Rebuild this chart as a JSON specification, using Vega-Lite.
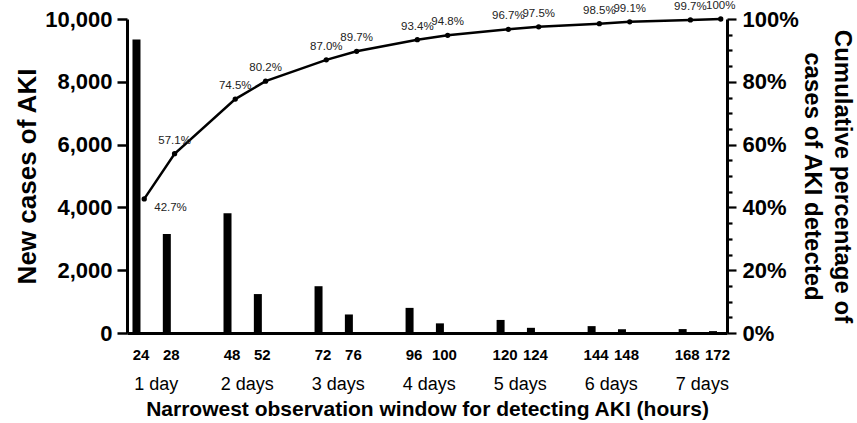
{
  "$schema": "https://vega.github.io/schema/vega-lite/v6.json",
  "width": 600,
  "height": 314,
  "autosize": "none",
  "padding": {"left": 127, "top": 19, "right": 130, "bottom": 90},
  "config": {
    "font": "Liberation Sans",
    "view": {"stroke": null},
    "axis": {"grid": false, "domainColor": "#000", "tickColor": "#000", "labelColor": "#000", "titleColor": "#000"}
  },
  "datasets": {
    "bars": [
      {"hour": "24", "cases": 9350},
      {"hour": "28", "cases": 3150},
      {"hour": "48", "cases": 3810},
      {"hour": "52", "cases": 1240},
      {"hour": "72", "cases": 1490},
      {"hour": "76", "cases": 590},
      {"hour": "96", "cases": 800},
      {"hour": "100", "cases": 307},
      {"hour": "120", "cases": 416},
      {"hour": "124", "cases": 165},
      {"hour": "144", "cases": 219},
      {"hour": "148", "cases": 120},
      {"hour": "168", "cases": 125},
      {"hour": "172", "cases": 60}
    ],
    "cum": [
      {"hour": "24", "pct": 42.7, "label": "42.7%"},
      {"hour": "28", "pct": 57.1, "label": "57.1%"},
      {"hour": "48", "pct": 74.5, "label": "74.5%"},
      {"hour": "52", "pct": 80.2, "label": "80.2%"},
      {"hour": "72", "pct": 87.0, "label": "87.0%"},
      {"hour": "76", "pct": 89.7, "label": "89.7%"},
      {"hour": "96", "pct": 93.4, "label": "93.4%"},
      {"hour": "100", "pct": 94.8, "label": "94.8%"},
      {"hour": "120", "pct": 96.7, "label": "96.7%"},
      {"hour": "124", "pct": 97.5, "label": "97.5%"},
      {"hour": "144", "pct": 98.5, "label": "98.5%"},
      {"hour": "148", "pct": 99.1, "label": "99.1%"},
      {"hour": "168", "pct": 99.7, "label": "99.7%"},
      {"hour": "172", "pct": 100, "label": "100%"}
    ],
    "days": [
      {"day": "1 day"}, {"day": "2 days"}, {"day": "3 days"}, {"day": "4 days"},
      {"day": "5 days"}, {"day": "6 days"}, {"day": "7 days"}
    ]
  },
  "layer": [
    {
      "data": {"name": "bars"},
      "mark": {"type": "bar", "size": 8, "xOffset": -4, "color": "#000"},
      "encoding": {
        "x": {
          "field": "hour", "type": "ordinal",
          "scale": {"type": "point", "domain": ["24","28","g1","48","52","g2","72","76","g3","96","100","g4","120","124","g5","144","148","g6","168","172"], "padding": 0.387, "align": 0.574},
          "axis": {"orient": "bottom", "title": null, "labelExpr": "indexof(datum.value,'g')===0?'':datum.value", "ticks": false, "tickSize": 0, "domainWidth": 3, "labelFontSize": 15, "labelFontWeight": "bold", "labelPadding": 14, "labelOverlap": false, "labelAngle": 0, "labelBaseline": "top"}
        },
        "y": {
          "field": "cases", "type": "quantitative",
          "scale": {"domain": [0, 10000], "nice": false},
          "axis": {"orient": "left", "values": [0, 2000, 4000, 6000, 8000, 10000], "format": ",d", "tickSize": 10, "tickWidth": 2.5, "domainWidth": 3, "labelFontSize": 22, "labelFontWeight": "bold", "labelPadding": 5, "title": "New cases of AKI", "titleFontSize": 26, "titleFontWeight": "bold", "titlePadding": 4}
        }
      }
    },
    {
      "data": {"name": "cum"},
      "mark": {"type": "line", "color": "#000", "strokeWidth": 2.5, "xOffset": 3.75},
      "encoding": {
        "x": {
          "field": "hour", "type": "ordinal",
          "scale": {"type": "point", "domain": ["24","28","g1","48","52","g2","72","76","g3","96","100","g4","120","124","g5","144","148","g6","168","172"], "padding": 0.387, "align": 0.574},
          "axis": null
        },
        "y": {
          "field": "pct", "type": "quantitative",
          "scale": {"domain": [0, 100], "nice": false},
          "axis": {"orient": "right", "values": [0,5,10,15,20,25,30,35,40,45,50,55,60,65,70,75,80,85,90,95,100], "labelExpr": "datum.value % 20 === 0 ? datum.value + '%' : ''", "tickSize": {"condition": {"test": "datum.value % 20 === 0", "value": 9}, "value": 5}, "tickWidth": 2.2, "domainWidth": 3, "labelFontSize": 22, "labelFontWeight": "bold", "labelPadding": 6, "title": ["Cumulative percentage of", "cases of AKI detected"], "titleFontSize": 24, "titleFontWeight": "bold", "titleAngle": 90, "titlePadding": 1, "titleLineHeight": 30}
        }
      }
    },
    {
      "data": {"name": "cum"},
      "mark": {"type": "point", "filled": true, "color": "#000", "opacity": 1, "size": 28, "xOffset": 3.75},
      "encoding": {
        "x": {
          "field": "hour", "type": "ordinal",
          "scale": {"type": "point", "domain": ["24","28","g1","48","52","g2","72","76","g3","96","100","g4","120","124","g5","144","148","g6","168","172"], "padding": 0.387, "align": 0.574},
          "axis": null
        },
        "y": {"field": "pct", "type": "quantitative", "scale": {"domain": [0, 100], "nice": false}, "axis": null}
      }
    },
    {
      "data": {"name": "cum"},
      "transform": [{"filter": "datum.hour !== '24'"}],
      "mark": {"type": "text", "color": "#222", "fontSize": 11.5, "align": "center", "baseline": "middle", "dy": -13, "xOffset": 3.75},
      "encoding": {
        "x": {
          "field": "hour", "type": "ordinal",
          "scale": {"type": "point", "domain": ["24","28","g1","48","52","g2","72","76","g3","96","100","g4","120","124","g5","144","148","g6","168","172"], "padding": 0.387, "align": 0.574},
          "axis": null
        },
        "y": {"field": "pct", "type": "quantitative", "scale": {"domain": [0, 100], "nice": false}, "axis": null},
        "text": {"field": "label"}
      }
    },
    {
      "data": {"name": "cum"},
      "transform": [{"filter": "datum.hour === '24'"}],
      "mark": {"type": "text", "color": "#222", "fontSize": 11.5, "align": "left", "baseline": "middle", "dx": 10, "dy": 9, "xOffset": 3.75},
      "encoding": {
        "x": {
          "field": "hour", "type": "ordinal",
          "scale": {"type": "point", "domain": ["24","28","g1","48","52","g2","72","76","g3","96","100","g4","120","124","g5","144","148","g6","168","172"], "padding": 0.387, "align": 0.574},
          "axis": null
        },
        "y": {"field": "pct", "type": "quantitative", "scale": {"domain": [0, 100], "nice": false}, "axis": null},
        "text": {"field": "label"}
      }
    },
    {
      "data": {"name": "days"},
      "mark": {"type": "point", "opacity": 0},
      "encoding": {
        "x": {
          "field": "day", "type": "ordinal",
          "scale": {"type": "point", "domain": ["1 day","2 days","3 days","4 days","5 days","6 days","7 days"], "padding": 0.2956, "align": 0.533},
          "axis": {"orient": "bottom", "domain": false, "ticks": false, "tickSize": 0, "labelFontSize": 18, "labelFontWeight": "normal", "labelPadding": 42, "labelOverlap": false, "labelAngle": 0, "labelBaseline": "top", "title": "Narrowest observation window for detecting AKI (hours)", "titleFontSize": 21, "titleFontWeight": "bold", "titlePadding": 5}
        }
      }
    }
  ],
  "resolve": {
    "scale": {"x": "independent", "y": "independent"},
    "axis": {"x": "independent", "y": "independent"}
  }
}
